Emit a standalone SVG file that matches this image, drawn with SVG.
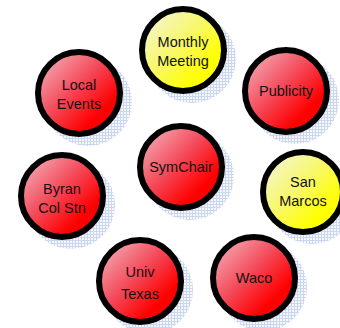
<svg xmlns="http://www.w3.org/2000/svg" width="340" height="328" viewBox="0 0 340 328">
<style>
.ring{stroke:#000;stroke-width:6}
.red{fill:url(#gRed)}
.yel{fill:url(#gYel)}
.sh{fill:url(#hatch);opacity:0.6}
text{font-family:"Liberation Sans",Arial,sans-serif;font-size:14.5px;fill:#111;text-anchor:middle}
</style>
<defs>
<linearGradient id="gRed" x1="0" y1="0" x2="1" y2="1">
<stop offset="0" stop-color="#f2c0c8"/>
<stop offset="0.45" stop-color="#f44858"/>
<stop offset="0.75" stop-color="#ff0000"/>
<stop offset="1" stop-color="#ff0000"/>
</linearGradient>
<linearGradient id="gYel" x1="0" y1="0" x2="1" y2="1">
<stop offset="0" stop-color="#f4f4e8"/>
<stop offset="0.45" stop-color="#f8f868"/>
<stop offset="0.75" stop-color="#ffff00"/>
<stop offset="1" stop-color="#ffff00"/>
</linearGradient>
<pattern id="hatch" width="3" height="3" patternUnits="userSpaceOnUse">
<rect width="3" height="3" fill="#eef2fa"/>
<rect width="3" height="1" fill="#a9bde2"/>
<rect width="1" height="3" fill="#a9bde2"/>
</pattern>
</defs>
<g id="shadows">
<circle class="sh" cx="192" cy="59" r="44"/>
<circle class="sh" cx="295" cy="100" r="44"/>
<circle class="sh" cx="88" cy="102" r="44"/>
<circle class="sh" cx="190" cy="176" r="44"/>
<circle class="sh" cx="312" cy="201" r="43"/>
<circle class="sh" cx="71" cy="205" r="44"/>
<circle class="sh" cx="149" cy="290" r="44"/>
<circle class="sh" cx="263" cy="287" r="44"/>
</g>
<g id="connectors"></g>
<g id="monthly-meeting">
<circle class="ring yel" cx="183" cy="50" r="41"/>
<text x="183" y="47">Monthly</text>
<text x="183" y="66">Meeting</text>
</g>
<g id="publicity">
<circle class="ring red" cx="286" cy="91" r="41"/>
<text x="286" y="96">Publicity</text>
</g>
<g id="local-events">
<circle class="ring red" cx="79" cy="93" r="41"/>
<text x="79" y="90">Local</text>
<text x="79" y="109">Events</text>
</g>
<g id="symchair">
<circle class="ring red" cx="181" cy="167" r="41"/>
<text x="181" y="172">SymChair</text>
</g>
<g id="san-marcos">
<circle class="ring yel" cx="303" cy="192" r="40"/>
<text x="303" y="187">San</text>
<text x="303" y="206">Marcos</text>
</g>
<g id="byran-col-stn">
<circle class="ring red" cx="62" cy="196" r="41"/>
<text x="62" y="194">Byran</text>
<text x="62" y="213">Col Stn</text>
</g>
<g id="univ-texas">
<circle class="ring red" cx="140" cy="281" r="41"/>
<text x="140" y="277">Univ</text>
<text x="140" y="299">Texas</text>
</g>
<g id="waco">
<circle class="ring red" cx="254" cy="278" r="41"/>
<text x="254" y="283">Waco</text>
</g>
</svg>
